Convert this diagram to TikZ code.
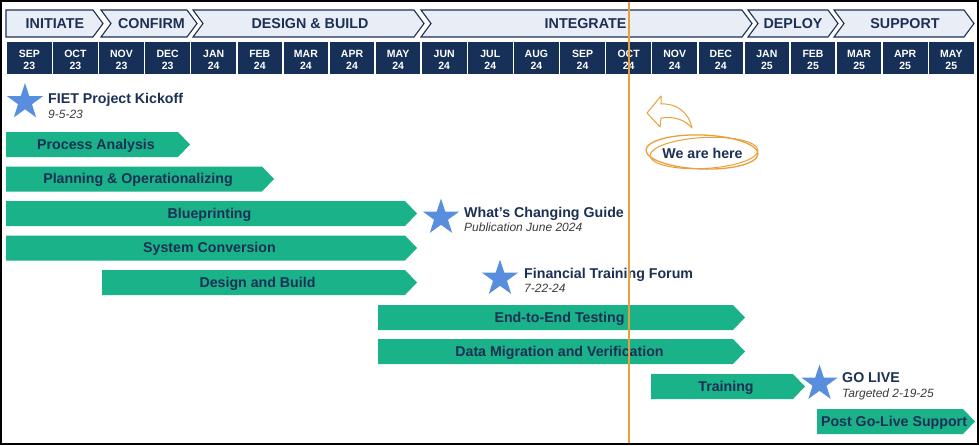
\documentclass[tikz,border=0pt]{standalone}
\usepackage{fontspec}
\setmainfont{Liberation Sans}
\usetikzlibrary{shapes.geometric}
\definecolor{navy}{RGB}{27,48,84}
\definecolor{cellnavy}{RGB}{22,48,88}
\definecolor{chevfill}{RGB}{233,238,246}
\definecolor{gbar}{RGB}{25,178,137}
\definecolor{starblue}{RGB}{88,142,221}
\definecolor{orng}{RGB}{233,160,58}
\definecolor{subgray}{RGB}{60,60,60}
\newcommand\gbarshape[5]{%
  \fill[gbar] (#1,#2) -- ({#3-12},#2) -- (#3,{#2+12.5}) -- ({#3-12},{#2+25}) -- (#1,{#2+25}) -- cycle;
  \node[bartxt] (#4) at ({(#1+#3)/2-2},{#2+17}) {#5};}
\begin{document}
\begin{tikzpicture}[x=1pt,y=-1pt,
  chev/.style={draw=navy, line width=1.1pt, fill=chevfill, line join=miter},
  phasetxt/.style={font=\fontsize{14.3}{14}\selectfont\bfseries, text=navy, anchor=base, inner sep=0},
  mcell/.style={fill=cellnavy, draw=none},
  mtxt/.style={font=\fontsize{10.5}{10}\selectfont\bfseries, text=white, anchor=base, inner sep=0},
  bartxt/.style={font=\fontsize{14.2}{14}\selectfont\bfseries, text=navy, anchor=base, inner sep=0},
  mstar/.style={star, star points=5, star point ratio=2.6, fill=starblue, draw=none, minimum size=38pt, inner sep=0},
  ttl/.style={font=\fontsize{14.2}{14}\selectfont\bfseries, text=navy, anchor=base west, inner sep=0},
  sub/.style={font=\fontsize{12}{12}\selectfont\itshape, text=subgray, anchor=base west, inner sep=0}]
\useasboundingbox (0,0) rectangle (979,445);
\fill[white] (0,0) rectangle (979,445);
% phase chevrons
\draw[chev] (6,10) -- (93,10) -- (103,23.5) -- (93,37) -- (6,37) -- cycle;
\draw[chev] (101,10) -- (187,10) -- (197,23.5) -- (187,37) -- (101,37) -- (111,23.5) -- cycle;
\draw[chev] (193,10) -- (414,10) -- (424,23.5) -- (414,37) -- (193,37) -- (203,23.5) -- cycle;
\draw[chev] (421,10) -- (742,10) -- (752,23.5) -- (742,37) -- (421,37) -- (431,23.5) -- cycle;
\draw[chev] (748,10) -- (828,10) -- (838,23.5) -- (828,37) -- (748,37) -- (758,23.5) -- cycle;
\draw[chev] (834,10) -- (964,10) -- (974,23.5) -- (964,37) -- (834,37) -- (844,23.5) -- cycle;
\node[phasetxt] (p1) at (55,28.5) {INITIATE};
\node[phasetxt] (p2) at (151.5,28.5) {CONFIRM};
\node[phasetxt] (p3) at (310,28.5) {DESIGN \& BUILD};
\node[phasetxt] (p4) at (585.5,28.5) {INTEGRATE};
\node[phasetxt] (p5) at (793,28.5) {DEPLOY};
\node[phasetxt] (p6) at (905,28.5) {SUPPORT};
% months
\foreach \mo/\yr [count=\i from 0] in {SEP/23,OCT/23,NOV/23,DEC/23,JAN/24,FEB/24,MAR/24,APR/24,MAY/24,JUN/24,JUL/24,AUG/24,SEP/24,OCT/24,NOV/24,DEC/24,JAN/25,FEB/25,MAR/25,APR/25,MAY/25} {
  \path[mcell] ({7+46.1*\i},42) rectangle ({7+46.1*\i+44.6},74);
  \node[mtxt] (mon\i) at ({7+46.1*\i+22.3},57.3) {\mo};
  \node[mtxt] (yr\i) at ({7+46.1*\i+22.3},69) {\yr};
}
% bars
\gbarshape{6}{132}{190}{b1}{Process Analysis}
\gbarshape{6}{166.5}{274}{b2}{Planning \& Operationalizing}
\gbarshape{6}{201}{417}{b3}{Blueprinting}
\gbarshape{6}{235.5}{417}{b4}{System Conversion}
\gbarshape{102}{270}{417}{b5}{Design and Build}
\gbarshape{378}{305}{745}{b6}{End-to-End Testing}
\gbarshape{378}{339}{745}{b7}{Data Migration and Verification}
\gbarshape{651}{374}{805}{b8}{Training}
\gbarshape{817}{409}{975}{b9}{Post Go-Live Support}
% milestones
\node[mstar] (s1) at (25,102) {};
\node[mstar] (s2) at (441,217.5) {};
\node[mstar] (s3) at (500,278.5) {};
\node[mstar] (s4) at (819.5,383.5) {};
\node[ttl] (t1) at (48,103) {FIET Project Kickoff};
\node[sub] (d1) at (48,118.5) {9-5-23};
\node[ttl] (t2) at (464,217) {What’s Changing Guide};
\node[sub] (d2) at (464,231.5) {Publication June 2024};
\node[ttl] (t3) at (524,278.3) {Financial Training Forum};
\node[sub] (d3) at (524,292.3) {7-22-24};
\node[ttl] (t4) at (842,382.7) {GO LIVE};
\node[sub] (d4) at (842,397.7) {Targeted 2-19-25};
% we are here
\draw[orng, line width=1pt, fill=white, line join=round] (647,113) -- (661,96) -- (661,104) .. controls (677,103) and (689,113) .. (692,128) .. controls (685,120) and (675,116) .. (661,118) -- (660,127) -- cycle;
\draw[orng, line width=1.3pt, rotate around={-2:(702,152)}] (702,152) ellipse [x radius=56, y radius=17];
\draw[orng, line width=1pt, rotate around={3:(704,153)}] (704,153) ellipse [x radius=54, y radius=15.5];
\node[bartxt] (here) at (702.5,158.3) {We are here};
% today line
\draw[orng, line width=2.3pt] (629,0) -- (629,445);
% frame
\draw[line width=2pt] (1,1) rectangle (978,444);
\end{tikzpicture}
\end{document}
